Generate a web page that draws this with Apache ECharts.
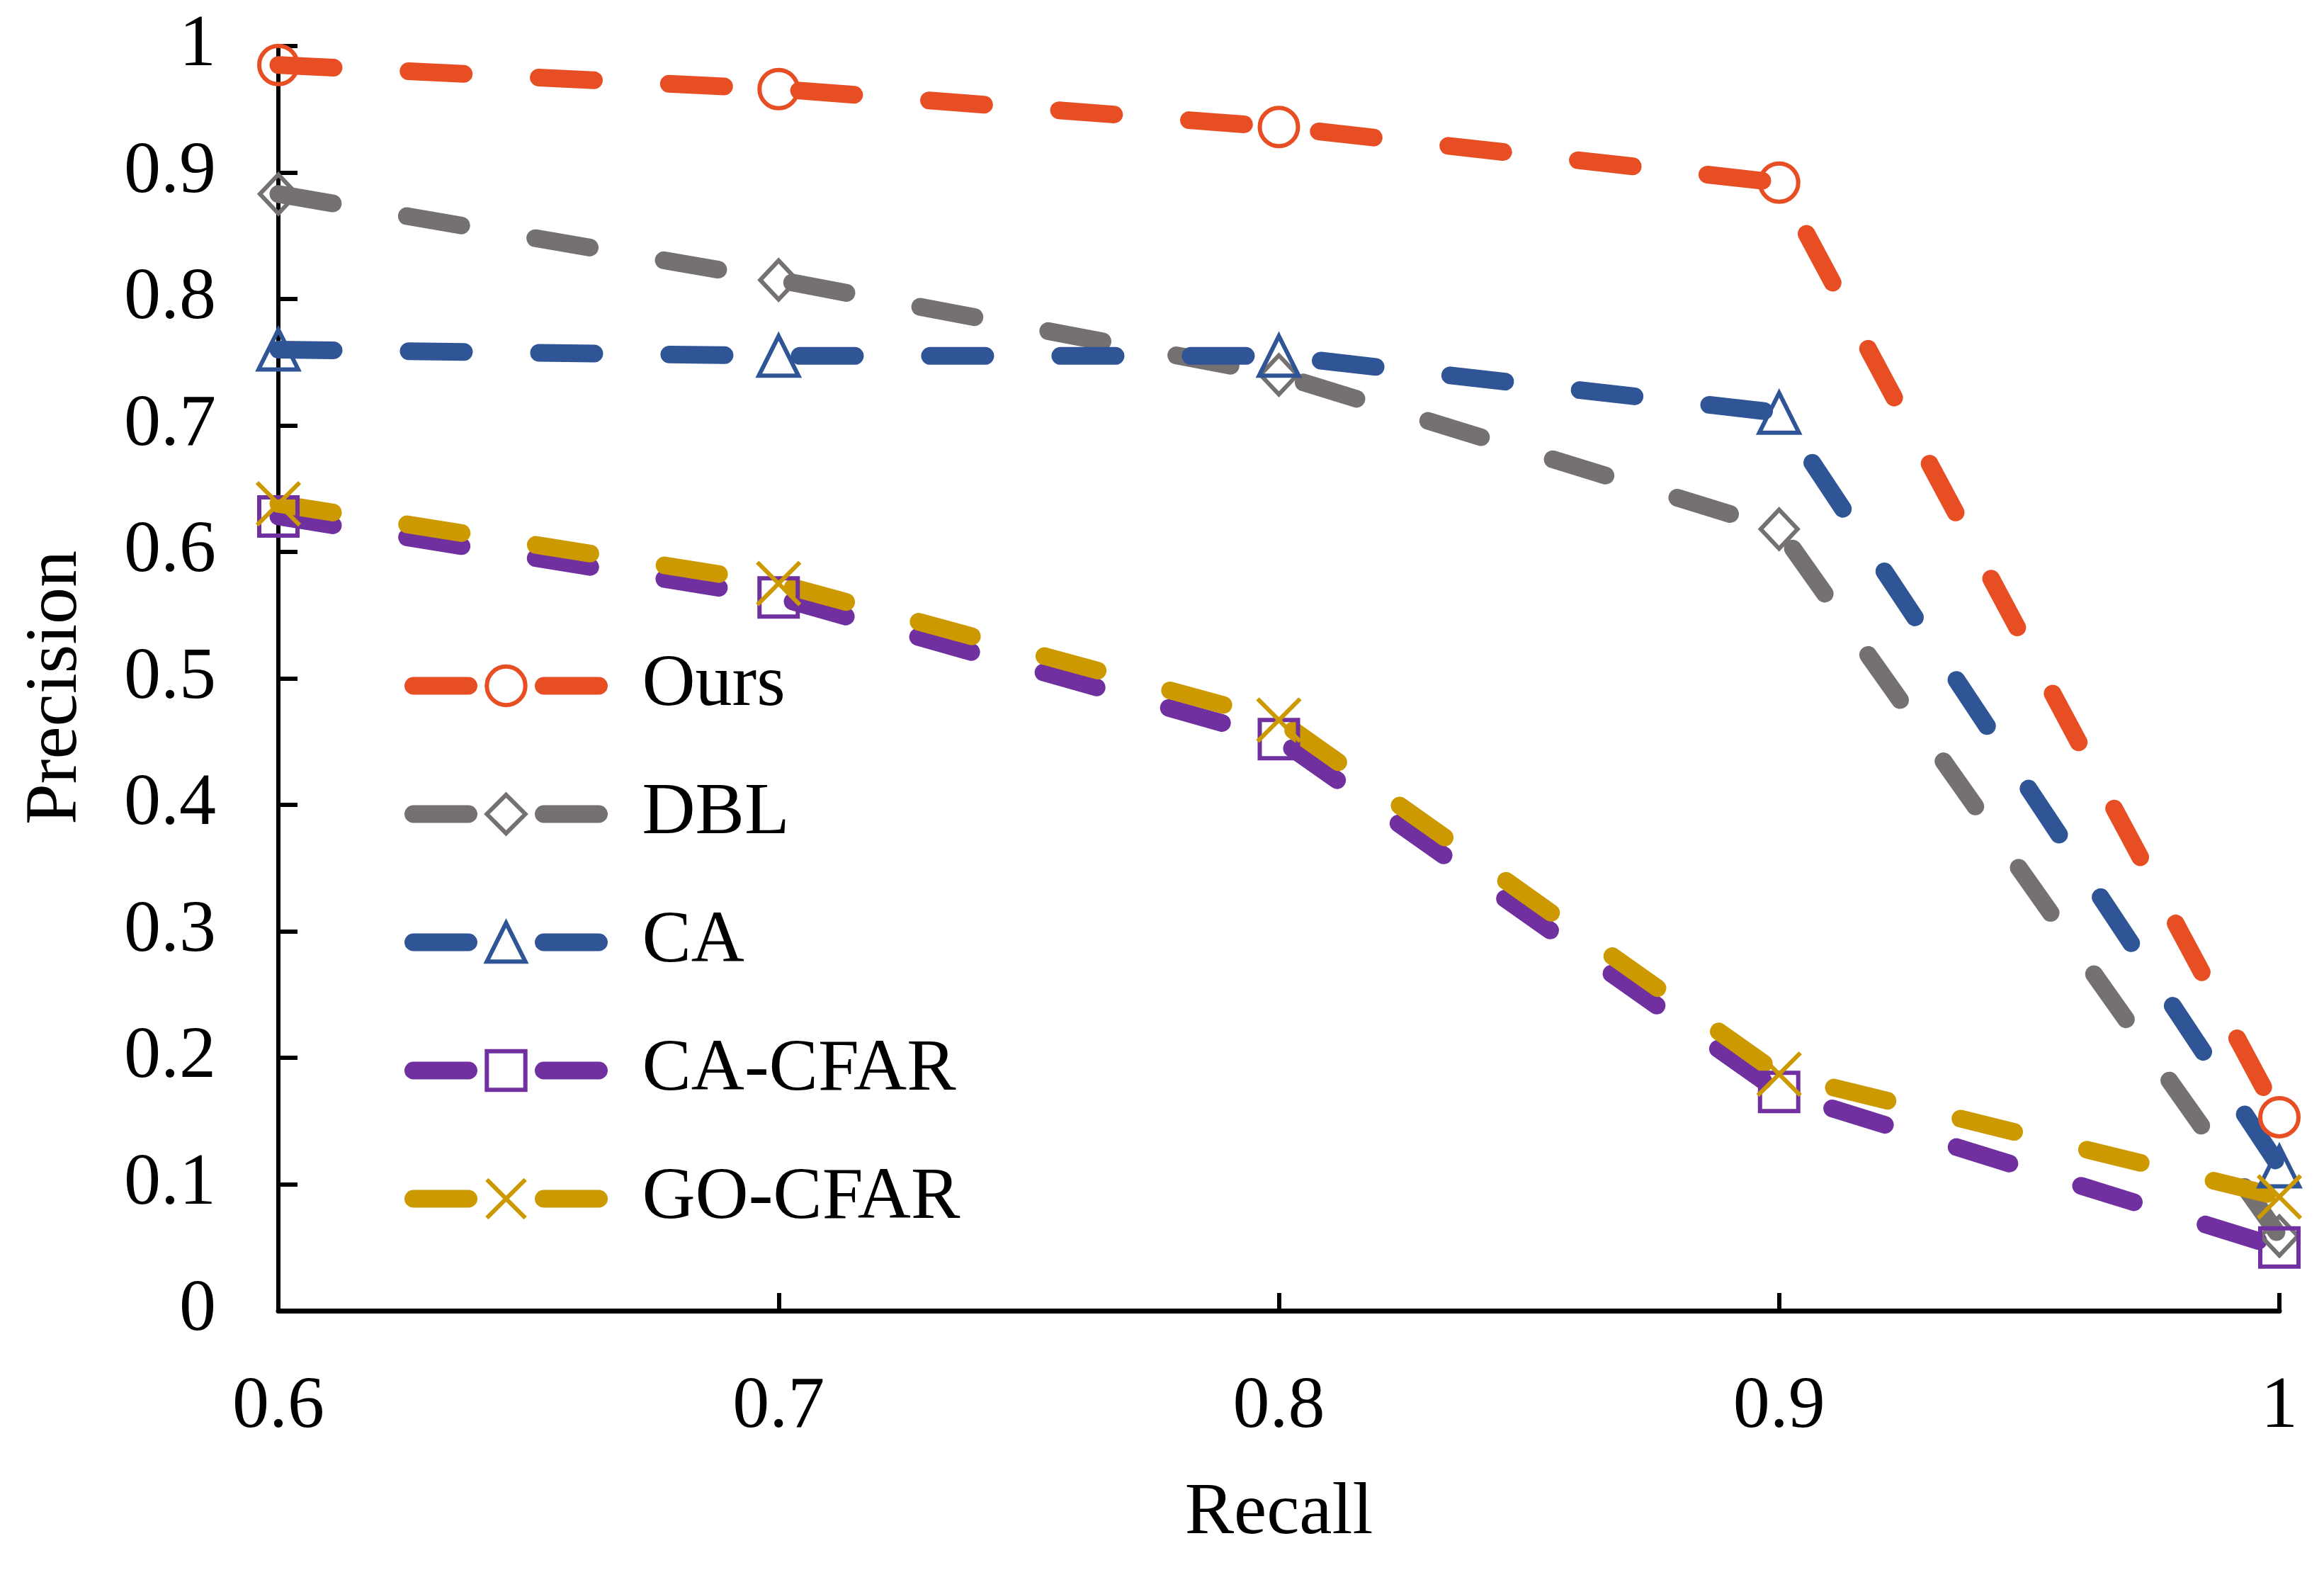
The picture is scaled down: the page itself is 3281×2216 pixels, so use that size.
<!DOCTYPE html>
<html>
<head>
<meta charset="utf-8">
<script src="https://cdn.jsdelivr.net/npm/echarts@6/dist/echarts.min.js"></script>
<style>
  html, body { margin: 0; padding: 0; background: #fff; }
  #main { width: 3281px; height: 2216px; }
</style>
</head>
<body>
<div id="main"></div>
<script>
// recall values on the x axis
var recall = ['0.6', '0.7', '0.8', '0.9', '1'];

// precision
var ours   = [0.985, 0.966, 0.936, 0.892, 0.153];
var dbl    = [0.883, 0.815, 0.740, 0.618, 0.059];
var ca     = [0.760, 0.755, 0.755, 0.710, 0.114];
var caCfar = [0.628, 0.564, 0.452, 0.173, 0.050];
var goCfar = [0.638, 0.575, 0.467, 0.187, 0.090];

var names = ['Ours', 'DBL', 'CA', 'CA-CFAR', 'GO-CFAR'];

var font = 'Liberation Serif';
var dash = [78, 106];
var crossPath = 'path://M0,0L10,10M10,0L0,10';

function makeSeries(name, data, color, symbol, size) {
  return {
    name: name,
    type: 'line',
    data: data,
    symbol: symbol,
    symbolSize: size,
    clip: false,
    lineStyle: { color: color, width: 25, type: dash, cap: 'round' },
    itemStyle: { color: 'none', borderColor: color, borderWidth: 6 },
    emphasis: { disabled: true },
    z: 2
  };
}

var option = {
  backgroundColor: '#fff',
  animation: false,
  grid: {
    left: 393,
    right: 63,
    top: 65,
    bottom: 366
  },
  legend: {
    orient: 'vertical',
    left: 571,
    top: 916,
    padding: 0,
    itemWidth: 262,
    itemHeight: 68,
    itemGap: 77,
    selectedMode: false,
    data: names,
    lineStyle: { width: 25 },
    itemStyle: { borderWidth: 6 },
    textStyle: {
      fontFamily: font,
      fontSize: 104,
      color: '#000',
      padding: [0, 0, 0, 56]
    }
  },
  xAxis: {
    type: 'category',
    data: recall,
    boundaryGap: false,
    name: 'Recall',
    nameLocation: 'middle',
    nameGap: 235,
    nameTextStyle: { fontFamily: font, fontSize: 104, color: '#000' },
    axisLine: { lineStyle: { color: '#000', width: 7 } },
    axisTick: { inside: true, length: 25, lineStyle: { color: '#000', width: 6 } },
    axisLabel: { fontFamily: font, fontSize: 104, color: '#000', margin: 85 },
    splitLine: { show: false }
  },
  yAxis: {
    type: 'value',
    min: 0,
    max: 1,
    interval: 0.1,
    name: 'Precision',
    nameLocation: 'middle',
    nameRotate: 90,
    nameGap: 261,
    nameTextStyle: { fontFamily: font, fontSize: 104, color: '#000', padding: [0, 26, 0, 0] },
    axisLine: { show: true, lineStyle: { color: '#000', width: 6 } },
    axisTick: { show: true, inside: true, length: 27, lineStyle: { color: '#000', width: 6 } },
    axisLabel: {
      fontFamily: font, fontSize: 104, color: '#000', margin: 88,
      padding: [12, 0, 0, 0],
      formatter: function (v) { return String(parseFloat(v.toFixed(1))); }
    },
    splitLine: { show: false }
  },
  series: [
    makeSeries('Ours', ours, '#E84E24', 'circle', 54),
    makeSeries('DBL', dbl, '#767171', 'diamond', [52, 55]),
    makeSeries('CA', ca, '#2F5597', 'triangle', 56),
    makeSeries('CA-CFAR', caCfar, '#7030A0', 'rect', 54),
    makeSeries('GO-CFAR', goCfar, '#CC9900', crossPath, 60)
  ]
};

echarts.init(document.getElementById('main')).setOption(option);
</script>
</body>
</html>
